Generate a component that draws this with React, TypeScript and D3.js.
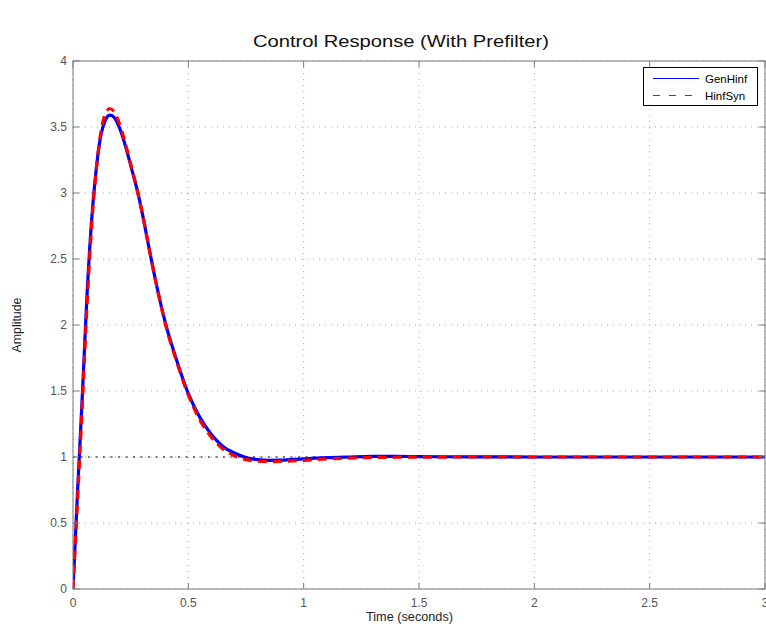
import React from "react";
import * as d3 from "d3";

const timeGen: number[] = [0, 0.02, 0.04, 0.06, 0.08, 0.10, 0.12, 0.14, 0.16, 0.18, 0.20, 0.22, 0.25, 0.28, 0.30, 0.33, 0.36, 0.40, 0.45, 0.50, 0.55, 0.60, 0.65, 0.70, 0.75, 0.80, 0.85, 0.90, 1.0, 1.1, 1.2, 1.3, 1.4, 1.5, 1.75, 2.0, 2.5, 3.0];
const genHinf: number[] = [0, 0.75, 1.45, 2.2, 2.78, 3.17, 3.43, 3.55, 3.59, 3.57, 3.5, 3.4, 3.21, 3.01, 2.85, 2.58, 2.32, 2.02, 1.73, 1.48, 1.3, 1.17, 1.08, 1.03, 0.995, 0.98, 0.975, 0.976, 0.986, 0.995, 1.0, 1.004, 1.005, 1.003, 1.001, 1.0, 1.0, 1.0];
const hinfSyn: number[] = [0, 0.68, 1.38, 2.12, 2.73, 3.16, 3.45, 3.6, 3.64, 3.61, 3.53, 3.42, 3.22, 3.01, 2.85, 2.58, 2.32, 2.01, 1.72, 1.47, 1.28, 1.15, 1.06, 1.01, 0.98, 0.968, 0.965, 0.966, 0.975, 0.985, 0.992, 0.996, 0.998, 0.999, 1.0, 1.0, 1.0, 1.0];

const xTicks: number[] = [0, 0.5, 1, 1.5, 2, 2.5, 3];
const yTicks: number[] = [0, 0.5, 1, 1.5, 2, 2.5, 3, 3.5, 4];
const seriesNames: string[] = ["GenHinf", "HinfSyn"];
const titleText = "Control Response (With Prefilter)";
const xLabel = "Time (seconds)";
const yLabel = "Amplitude";

export default function App() {
  const W = 766, H = 630;
  const L = 73, R = 765, T = 61, B = 589;
  const x = d3.scaleLinear().domain([0, 3]).range([L, R]);
  const y = d3.scaleLinear().domain([0, 4]).range([B, T]);
  const line = d3.line<[number, number]>().x(d => x(d[0])).y(d => y(d[1])).curve(d3.curveMonotoneX);
  const genPts: [number, number][] = timeGen.map((t, i) => [t, genHinf[i]]);
  const synPts: [number, number][] = timeGen.map((t, i) => [t, hinfSyn[i]]);
  const axisColor = "#7a7a7a";
  const tickTextColor = "#555";
  const font = "'Liberation Sans', Arial, Helvetica, sans-serif";
  return (
    <svg width={W} height={H} style={{ position: "absolute", left: 0, top: 0, background: "#fff" }} fontFamily={font}>
      <rect x={0} y={0} width={W} height={H} fill="#fff" />
      <rect x={L} y={T} width={R - L} height={B - T} fill="#fff" />
      {xTicks.map(t => (
        <line key={"gx" + t} x1={x(t)} x2={x(t)} y1={T} y2={B} stroke="#a8a8a8" strokeWidth={1} strokeDasharray="1,5" />
      ))}
      {yTicks.map(t => (
        <line key={"gy" + t} x1={L} x2={R} y1={y(t)} y2={y(t)} stroke="#a8a8a8" strokeWidth={1} strokeDasharray="1,5" />
      ))}
      <line x1={L} x2={R} y1={y(1)} y2={y(1)} stroke="#000" strokeWidth={1} strokeDasharray="2,5.5" />
      <clipPath id="plotclip"><rect x={L} y={T} width={R - L} height={B - T} /></clipPath>
      <g clipPath="url(#plotclip)">
        <path d={line(genPts) || ""} fill="none" stroke="#0000ff" strokeWidth={3.2} strokeLinejoin="round" />
        <path d={line(synPts) || ""} fill="none" stroke="#ff0000" strokeWidth={3.2} strokeDasharray="9,6" />
      </g>
      <rect x={L} y={T} width={R - L} height={B - T} fill="none" stroke={axisColor} strokeWidth={1} />
      {xTicks.map(t => (
        <g key={"tx" + t}>
          <line x1={x(t)} x2={x(t)} y1={B} y2={B - 6} stroke={axisColor} />
          <line x1={x(t)} x2={x(t)} y1={T} y2={T + 6} stroke={axisColor} />
          <text x={x(t)} y={B + 18} textAnchor="middle" fontSize={12} fill={tickTextColor}>{String(t)}</text>
        </g>
      ))}
      {yTicks.map(t => (
        <g key={"ty" + t}>
          <line x1={L} x2={L + 6} y1={y(t)} y2={y(t)} stroke={axisColor} />
          <line x1={R} x2={R - 6} y1={y(t)} y2={y(t)} stroke={axisColor} />
          <text x={L - 6} y={y(t) + 4} textAnchor="end" fontSize={12} fill={tickTextColor}>{String(t)}</text>
        </g>
      ))}
      <text x={401} y={47} textAnchor="middle" fontSize={16.5} fill="#111" textLength={296} lengthAdjust="spacingAndGlyphs">{titleText}</text>
      <text x={409.5} y={621} textAnchor="middle" fontSize={12} fill="#222" textLength={87} lengthAdjust="spacingAndGlyphs">{xLabel}</text>
      <text transform={`translate(21,${(T + B) / 2}) rotate(-90)`} textAnchor="middle" fontSize={12} fill="#222" textLength={55} lengthAdjust="spacingAndGlyphs">{yLabel}</text>
      <g>
        <rect x={643.5} y={67.5} width={114} height={38} fill="#fff" stroke="#000" strokeWidth={1} />
        <line x1={653} x2={699} y1={78.5} y2={78.5} stroke="#0000ff" strokeWidth={1} />
        <text x={705} y={82.5} fontSize={11.5} fill="#000">{seriesNames[0]}</text>
        <line x1={653} x2={699} y1={95.5} y2={95.5} stroke="#ff0000" strokeWidth={1} strokeDasharray="7,9" />
        <text x={705} y={99.5} fontSize={11.5} fill="#000">{seriesNames[1]}</text>
      </g>
    </svg>
  );
}
